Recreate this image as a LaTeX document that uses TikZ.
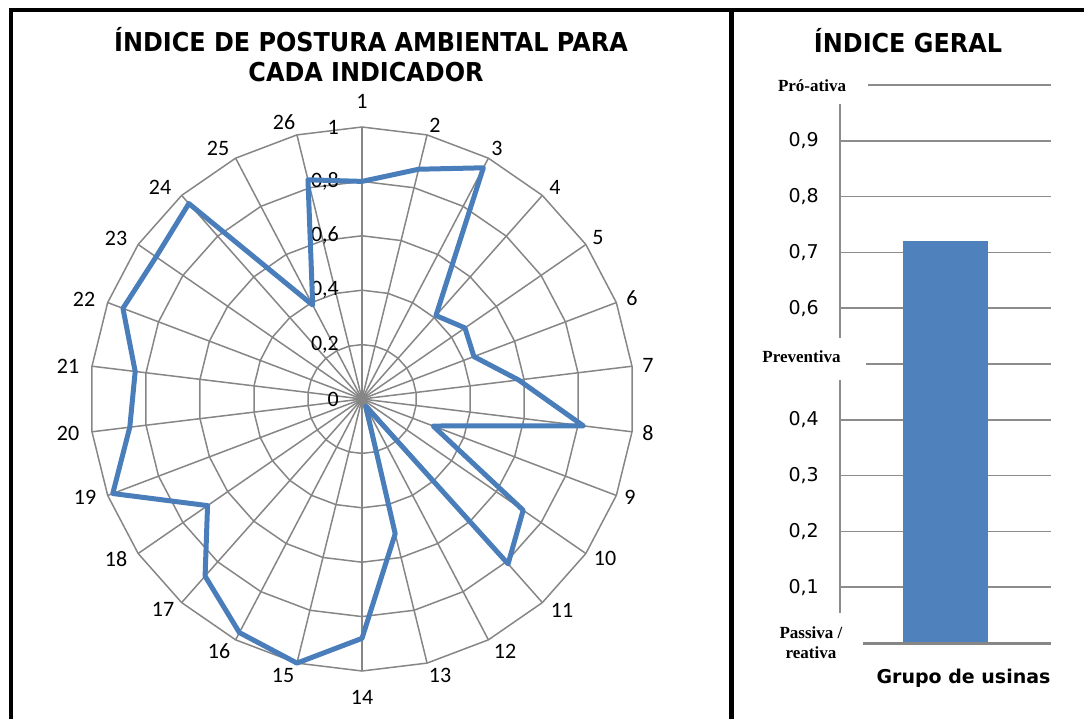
\documentclass[tikz,border=0pt]{standalone}
\usepackage{fontspec}
\setmainfont{Carlito}
\newfontfamily\dvsans{DejaVu Sans}
\newfontfamily\lserif{Liberation Serif}
\newcommand\fsz[1]{\fontsize{#1pt}{#1pt}\selectfont}
\newcommand\fszl{\fontsize{17pt}{20pt}\selectfont}
\definecolor{seriesblue}{HTML}{4A7EBB}
\definecolor{barblue}{HTML}{4F81BD}
\definecolor{gridgray}{HTML}{868686}
\definecolor{bargrid}{HTML}{8C8C8C}
\tikzset{
  gridline/.style={draw=gridgray, line width=1.5pt},
  seriesline/.style={draw=seriesblue, line width=5pt, line join=round},
  radarlabel/.style={inner sep=0pt, font=\fsz{22}},
  titlelabel/.style={inner sep=0pt, anchor=base, font=\dvsans\bfseries\fsz{26}},
  ticklabel/.style={inner sep=0pt, anchor=east, font=\dvsans\fsz{19}},
  levellabel/.style={inner sep=0pt, font=\lserif\bfseries\fszl, align=center},
  hgrid/.style={draw=bargrid, line width=1.5pt},
}
\begin{document}
\begin{tikzpicture}[x=1pt,y=-1pt]
\useasboundingbox (0,0) rectangle (1084,719);
% frame
\draw[line width=4pt] (10.5,719) -- (10.5,10.5) -- (1084,10.5);
\draw[line width=5pt] (731.5,10.5) -- (731.5,719);
% titles
\node[titlelabel] (t1) at (371,52) {\scalebox{0.92}[1]{ÍNDICE DE POSTURA AMBIENTAL PARA}};
\node[titlelabel] (t2) at (366,82) {\scalebox{0.92}[1]{CADA INDICADOR}};
\node[titlelabel] (t3) at (908,53) {\scalebox{0.92}[1]{ÍNDICE GERAL}};
% radar grid
\foreach \v in {0.2,0.4,0.6,0.8,1.0}{
  \draw[gridline] plot[samples=27, domain=0:26, variable=\k]
    ({362+\v*272*sin(\k*360/26)},{399-\v*272*cos(\k*360/26)}) -- cycle;
}
\foreach \k in {0,...,25}{
  \draw[gridline] (362,399) -- ({362+272*sin(\k*360/26)},{399-272*cos(\k*360/26)});
}
% ring labels
\foreach \v/\t [count=\i] in {0/0,0.2/{0,2},0.4/{0,4},0.6/{0,6},0.8/{0,8},1/1}{
  \node[radarlabel, anchor=east] (rl\i) at (339,{399-\v*272}) {\t};
}
% series
\foreach \val [count=\k from 0] in {0.80,0.87,0.96,0.41,0.46,0.44,0.58,0.82,0.28,0.72,0.81,0.03,0.51,0.88,1.00,0.97,0.87,0.69,0.98,0.86,0.84,0.94,0.92,0.96,0.39,0.83}{
  \coordinate (p\k) at ({362+\val*272*sin(\k*360/26)},{399-\val*272*cos(\k*360/26)});
}
\draw[seriesline] (p0) \foreach \k in {1,...,25}{ -- (p\k)} -- cycle;
% axis labels
\foreach \k/\x/\y in {1/362/101,2/435/125,3/497/148,4/555/187,5/598/238,6/632/298,7/648/365,8/648/433,9/630/497,10/605/558,11/562/610,12/505/651,13/440/675,14/362/697,15/283/675,16/219/651,17/163/609,18/116/559,19/85/497,20/68/433,21/68/366,22/84/299,23/116/238,24/160/187,25/218/148,26/284/122}{
  \node[radarlabel] (lab\k) at (\x,\y) {\k};
}
% bar chart grid
\foreach \v in {1,2,3,4,6,7,8,9}{
  \draw[hgrid] (841,{643-\v*55.8}) -- (1051,{643-\v*55.8});
}
\draw[hgrid] (868,85) -- (1051,85);
\draw[hgrid] (866,364) -- (1051,364);
\draw[draw=bargrid, line width=2pt] (840,104) -- (840,338);
\draw[draw=bargrid, line width=2pt] (840,380) -- (840,613);
\fill[barblue] (903,643) rectangle (988,241);
\draw[draw=gray!95, line width=3pt] (863,643) -- (1051,643);
% tick labels
\foreach \v/\t [count=\i] in {9/{0,9},8/{0,8},7/{0,7},6/{0,6},4/{0,4},3/{0,3},2/{0,2},1/{0,1}}{
  \node[ticklabel] (tk\i) at (819,{643-\v*55.8}) {\t};
}
\node[levellabel] (pro) at (812,86) {Pró-ativa};
\node[levellabel] (prev) at (801.5,357) {Preventiva};
\node[levellabel] (pass) at (811,643) {Passiva /\\reativa};
\node[inner sep=0pt, font=\dvsans\bfseries\fsz{19}] (grp) at (963.5,678) {Grupo de usinas};
\end{tikzpicture}
\end{document}
